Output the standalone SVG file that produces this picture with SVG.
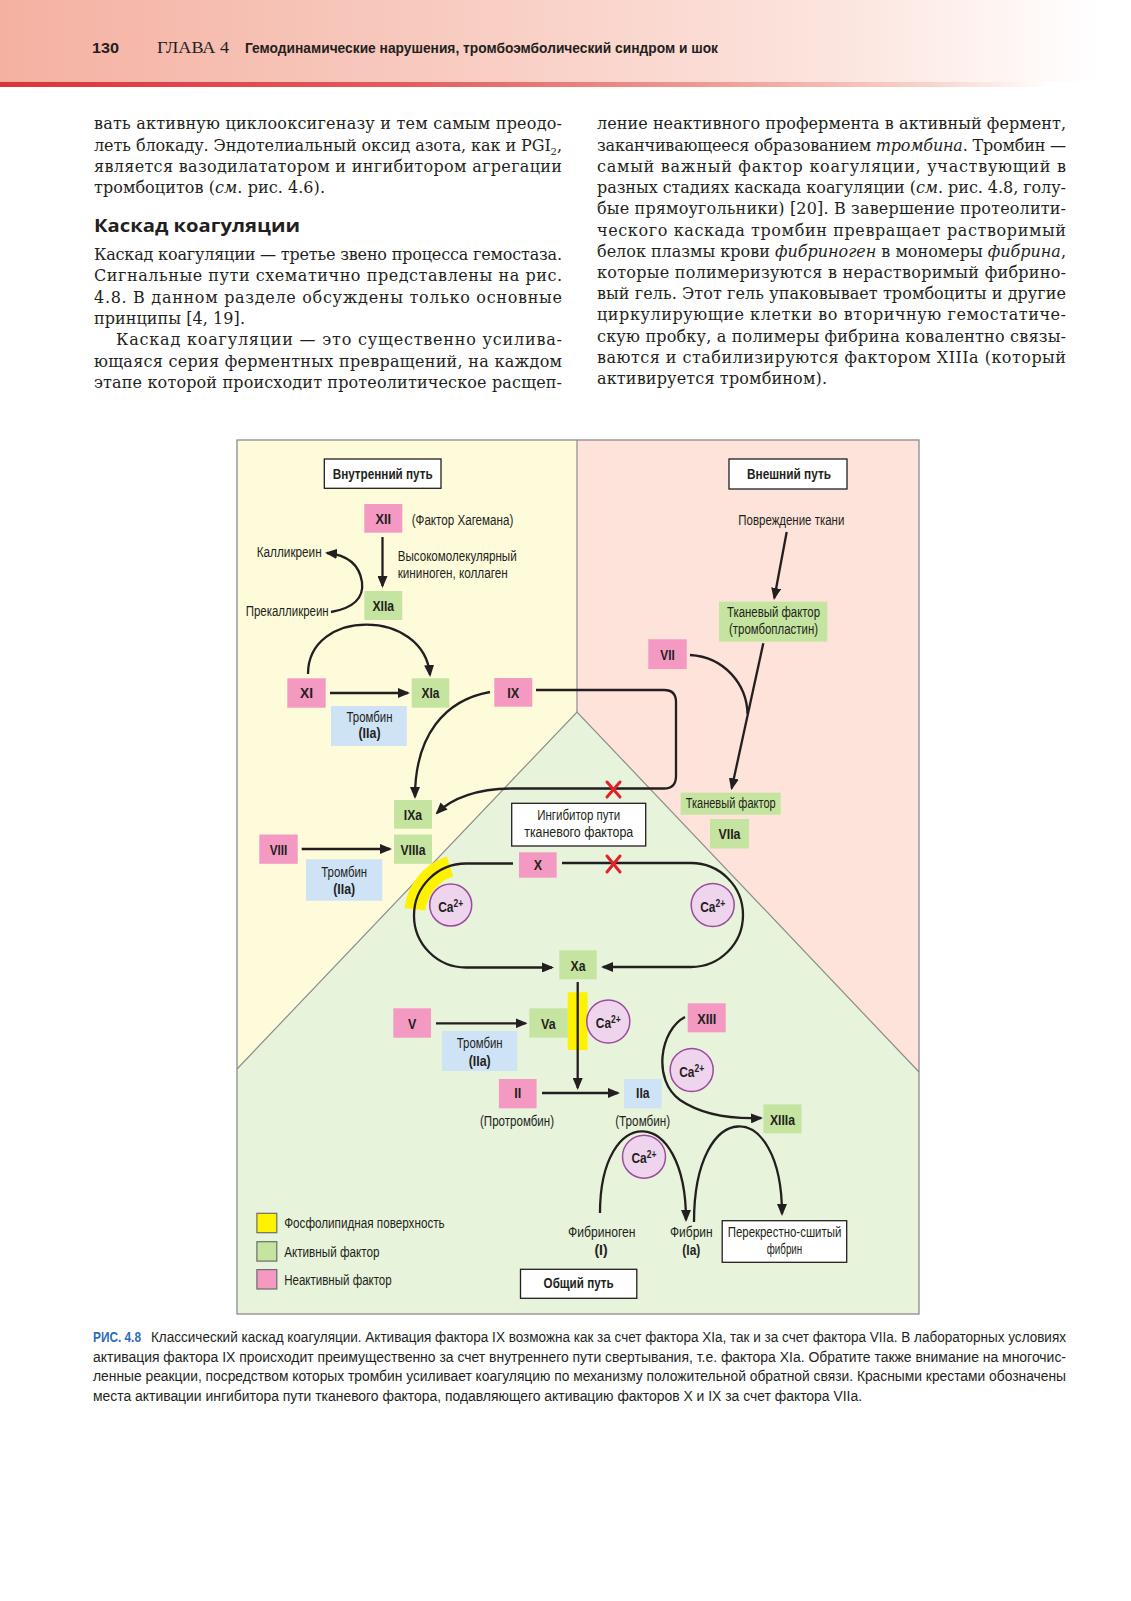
<svg xmlns="http://www.w3.org/2000/svg" width="1131" height="1601" viewBox="0 0 1131 1601">
<defs>
<linearGradient id="hdr" x1="0" y1="0" x2="1" y2="0">
<stop offset="0" stop-color="#f4b1a2"/>
<stop offset="0.45" stop-color="#f9cfc5"/>
<stop offset="0.75" stop-color="#fce5df"/>
<stop offset="0.97" stop-color="#ffffff"/>
</linearGradient>
<linearGradient id="rl" x1="0" y1="0" x2="1" y2="0">
<stop offset="0" stop-color="#dd343b"/>
<stop offset="0.35" stop-color="#e45a5c"/>
<stop offset="0.62" stop-color="#ee9a92"/>
<stop offset="0.82" stop-color="#f8d3cc"/>
<stop offset="0.93" stop-color="#ffffff"/>
</linearGradient>
<marker id="ah" markerUnits="userSpaceOnUse" markerWidth="12" markerHeight="10" refX="10" refY="5" orient="auto">
<path d="M0,0 L12,5 L0,10 Z" fill="#231f20"/>
</marker>
</defs>
<style>
.body{font-family:"DejaVu Serif","Liberation Serif",serif;font-size:16px;fill:#231f20}
.it{font-style:italic}
.lbl{font-family:"Liberation Sans Narrow","Liberation Sans",Arial,sans-serif;font-size:14px;fill:#231f20}
.cap{font-family:"Liberation Sans Narrow","Liberation Sans",Arial,sans-serif;font-size:14px;fill:#231f20}
.b{font-weight:bold}
.pk{fill:#f49ac2}
.gr{fill:#c5e49f}
.bl{fill:#cfe3f6}
.wb{fill:#ffffff;stroke:#231f20;stroke-width:1.3}
.ca circle{fill:#efd4ee;stroke:#9b4a9e;stroke-width:1.5}
.con path{fill:none;stroke:#231f20;stroke-width:2.3}
.rx line{stroke:#e4202a;stroke-width:3;stroke-linecap:round}
.reg{stroke:none}
.edge{stroke:#8c8c8c;stroke-width:1.2;fill:none}
</style>
<rect x="0" y="0" width="1131" height="1601" fill="#ffffff"/>

<!-- header -->
<g id="header">
<rect x="0" y="0" width="1131" height="82" fill="url(#hdr)"/>
<rect x="0" y="82" width="1131" height="5" fill="url(#rl)"/>
<text x="92" y="53" class="lbl b" font-size="17" textLength="27" lengthAdjust="spacingAndGlyphs">130</text>
<text x="157" y="53" font-family="Liberation Serif, serif" font-size="17" fill="#231f20" textLength="72" lengthAdjust="spacingAndGlyphs">ГЛАВА 4</text>
<text x="245" y="53" class="lbl b" font-size="17" textLength="473" lengthAdjust="spacingAndGlyphs">Гемодинамические нарушения, тромбоэмболический синдром и шок</text>
</g>

<!-- body text -->
<g id="bodytext">
<text class="body" x="94" y="129.3" textLength="468" lengthAdjust="spacing">вать активную циклооксигеназу и тем самым преодо-</text>
<text class="body" x="94" y="150.6" textLength="468" lengthAdjust="spacing">леть блокаду. Эндотелиальный оксид азота, как и PGI<tspan font-size="10" dy="4">2</tspan><tspan dy="-4">,</tspan></text>
<text class="body" x="94" y="171.9" textLength="468" lengthAdjust="spacing">является вазодилататором и ингибитором агрегации</text>
<text class="body" x="94" y="193.2" textLength="231" lengthAdjust="spacing">тромбоцитов (<tspan class="it">см</tspan>. рис. 4.6).</text>
<text x="94" y="231.7" font-family="Open Sans, DejaVu Sans, sans-serif" font-weight="bold" font-size="17" fill="#231f20" textLength="206" lengthAdjust="spacingAndGlyphs">Каскад коагуляции</text>
<text class="body" x="94" y="260" textLength="468" lengthAdjust="spacing">Каскад коагуляции — третье звено процесса гемостаза.</text>
<text class="body" x="94" y="281.3" textLength="468" lengthAdjust="spacing">Сигнальные пути схематично представлены на рис.</text>
<text class="body" x="94" y="302.6" textLength="468" lengthAdjust="spacing">4.8. В данном разделе обсуждены только основные</text>
<text class="body" x="94" y="323.9" textLength="151" lengthAdjust="spacing">принципы [4, 19].</text>
<text class="body" x="116" y="345.2" textLength="446" lengthAdjust="spacing">Каскад коагуляции — это существенно усилива-</text>
<text class="body" x="94" y="366.5" textLength="468" lengthAdjust="spacing">ющаяся серия ферментных превращений, на каждом</text>
<text class="body" x="94" y="387.8" textLength="468" lengthAdjust="spacing">этапе которой происходит протеолитическое расщеп-</text>

<text class="body" x="597" y="129.3" textLength="469" lengthAdjust="spacing">ление неактивного профермента в активный фермент,</text>
<text class="body" x="597" y="150.6" textLength="469" lengthAdjust="spacing">заканчивающееся образованием <tspan class="it">тромбина</tspan>. Тромбин —</text>
<text class="body" x="597" y="171.9" textLength="469" lengthAdjust="spacing">самый важный фактор коагуляции, участвующий в</text>
<text class="body" x="597" y="193.2" textLength="469" lengthAdjust="spacing">разных стадиях каскада коагуляции (<tspan class="it">см</tspan>. рис. 4.8, голу-</text>
<text class="body" x="597" y="214.4" textLength="469" lengthAdjust="spacing">бые прямоугольники) [20]. В завершение протеолити-</text>
<text class="body" x="597" y="235.6" textLength="469" lengthAdjust="spacing">ческого каскада тромбин превращает растворимый</text>
<text class="body" x="597" y="256.8" textLength="469" lengthAdjust="spacing">белок плазмы крови <tspan class="it">фибриноген</tspan> в мономеры <tspan class="it">фибрина</tspan>,</text>
<text class="body" x="597" y="278" textLength="469" lengthAdjust="spacing">которые полимеризуются в нерастворимый фибрино-</text>
<text class="body" x="597" y="299.2" textLength="469" lengthAdjust="spacing">вый гель. Этот гель упаковывает тромбоциты и другие</text>
<text class="body" x="597" y="320.4" textLength="469" lengthAdjust="spacing">циркулирующие клетки во вторичную гемостатиче-</text>
<text class="body" x="597" y="341.6" textLength="469" lengthAdjust="spacing">скую пробку, а полимеры фибрина ковалентно связы-</text>
<text class="body" x="597" y="362.8" textLength="469" lengthAdjust="spacing">ваются и стабилизируются фактором XIIIa (который</text>
<text class="body" x="597" y="384.2" textLength="230" lengthAdjust="spacing">активируется тромбином).</text>
</g>

<!-- diagram regions -->
<g id="regions">
<polygon class="reg" fill="#fefbdb" points="237,440 577,440 577,712 237,1069"/>
<polygon class="reg" fill="#fde3d9" points="577,440 919,440 919,1072 577,712"/>
<polygon class="reg" fill="#e7f3da" points="577,712 919,1072 919,1314 237,1314 237,1069"/>
<polyline class="edge" points="237,1069 577,712 919,1072"/>
<line class="edge" x1="577" y1="440" x2="577" y2="712"/>
<rect x="237" y="440" width="682" height="874" fill="none" stroke="#8c8c8c" stroke-width="1.3"/>
</g>

<!-- phospholipid surfaces -->
<g id="phospholipid">
<path d="M404.5,907.9 A62,62 0 0 1 446.8,856.5 L453.3,876.5 A41,41 0 0 0 425.3,910.5 Z" fill="#fff200"/>
<rect x="567.7" y="992.3" width="19.8" height="57.7" fill="#fff200"/>
</g>

<!-- connectors -->
<g id="connectors" class="con">
<path d="M382.5,537 L382.5,586" marker-end="url(#ah)"/>
<path d="M331,612 Q365,606 362,582 Q358,556 327,553" marker-end="url(#ah)"/>
<path d="M308,674 C308,608 424,608 430,675" marker-end="url(#ah)"/>
<path d="M330,693 L408,693" marker-end="url(#ah)"/>
<path d="M490,692 C445,700 415,735 415,797" marker-end="url(#ah)"/>
<path d="M536,690 L664,690 Q676,690 676,702 L676,776 Q676,788.5 664,788.5 L512,788.5 C478,788.5 452,798 437,813" marker-end="url(#ah)"/>
<path d="M786.7,532 L774.3,598" marker-end="url(#ah)"/>
<path d="M763.3,643.3 L731.7,788.3" marker-end="url(#ah)"/>
<path d="M690,655 C725,657 747,685 747.5,714"/>
<path d="M301.7,849 L390,849" marker-end="url(#ah)"/>
<path d="M513,863.5 L466,863.5 A52,52 0 0 0 466,967.5 L552,967.5" marker-end="url(#ah)"/>
<path d="M562,863 L691,863 A52,52 0 0 1 691,967 L603,967" marker-end="url(#ah)"/>
<path d="M577.7,982 L577.7,1088" marker-end="url(#ah)"/>
<path d="M436,1023.3 L525.5,1023.3" marker-end="url(#ah)"/>
<path d="M542,1093 L618,1093" marker-end="url(#ah)"/>
<path d="M685,1017 C660,1030 652,1080 680,1100 C705,1117 735,1119 761,1118" marker-end="url(#ah)"/>
<path d="M600,1213 C600,1103 686,1103 686,1220" marker-end="url(#ah)"/>
<path d="M694,1222 C694,1096 782,1096 782,1214" marker-end="url(#ah)"/>
</g>

<!-- red crosses -->
<g id="crosses" class="rx">
<line x1="607" y1="782" x2="620" y2="797"/><line x1="620" y1="782" x2="607" y2="797"/>
<line x1="607" y1="856" x2="620" y2="872"/><line x1="620" y1="856" x2="607" y2="872"/>
</g>

<!-- nodes -->
<g id="n-intrinsic"><rect class="wb" x="324.3" y="459" width="116.7" height="29.3"/><text class="lbl b" x="382.7" y="479" text-anchor="middle" textLength="100" lengthAdjust="spacingAndGlyphs">Внутренний путь</text></g>
<g id="n-extrinsic"><rect class="wb" x="729" y="459" width="118" height="30"/><text class="lbl b" x="789" y="479.3" text-anchor="middle" textLength="84" lengthAdjust="spacingAndGlyphs">Внешний путь</text></g>

<g id="n-XII"><rect class="pk" x="364.3" y="504" width="38" height="28.7"/><text class="lbl b" x="383.3" y="524" text-anchor="middle" textLength="15.5" lengthAdjust="spacingAndGlyphs">XII</text></g>
<g id="t-hageman"><text class="lbl" x="411.7" y="525" textLength="101.6" lengthAdjust="spacingAndGlyphs">(Фактор Хагемана)</text></g>
<g id="t-hmwk"><text class="lbl" x="397.7" y="560.7" textLength="119" lengthAdjust="spacingAndGlyphs">Высокомолекулярный</text><text class="lbl" x="397.7" y="577.7" textLength="110" lengthAdjust="spacingAndGlyphs">кининоген, коллаген</text></g>
<g id="t-kallikrein"><text class="lbl" x="256.7" y="557.3" textLength="65" lengthAdjust="spacingAndGlyphs">Калликреин</text></g>
<g id="t-prekallikrein"><text class="lbl" x="245.7" y="616" textLength="83" lengthAdjust="spacingAndGlyphs">Прекалликреин</text></g>
<g id="n-XIIa"><rect class="gr" x="364.3" y="591" width="38" height="29"/><text class="lbl b" x="383.3" y="611" text-anchor="middle" textLength="21.7" lengthAdjust="spacingAndGlyphs">XIIa</text></g>
<g id="n-XI"><rect class="pk" x="287.3" y="678.3" width="38.4" height="29.4"/><text class="lbl b" x="306.5" y="698.3" text-anchor="middle" textLength="13" lengthAdjust="spacingAndGlyphs">XI</text></g>
<g id="n-XIa"><rect class="gr" x="411.7" y="678.3" width="37.6" height="29.4"/><text class="lbl b" x="430.5" y="698.3" text-anchor="middle" textLength="18" lengthAdjust="spacingAndGlyphs">XIa</text></g>
<g id="n-thrombin1"><rect class="bl" x="331" y="706" width="75.7" height="40"/><text class="lbl" x="369.5" y="721.7" text-anchor="middle" textLength="46" lengthAdjust="spacingAndGlyphs">Тромбин</text><text class="lbl b" x="369.5" y="738.3" text-anchor="middle" textLength="22" lengthAdjust="spacingAndGlyphs">(IIa)</text></g>
<g id="n-IX"><rect class="pk" x="494.3" y="678" width="38" height="28.7"/><text class="lbl b" x="513.3" y="698" text-anchor="middle" textLength="12" lengthAdjust="spacingAndGlyphs">IX</text></g>

<g id="t-injury"><text class="lbl" x="791.3" y="525" text-anchor="middle" textLength="106" lengthAdjust="spacingAndGlyphs">Повреждение ткани</text></g>
<g id="n-TF1"><rect class="gr" x="719" y="601.7" width="108.3" height="40"/><text class="lbl" x="773.5" y="616.7" text-anchor="middle" textLength="93" lengthAdjust="spacingAndGlyphs">Тканевый фактор</text><text class="lbl" x="773.5" y="634" text-anchor="middle" textLength="89" lengthAdjust="spacingAndGlyphs">(тромбопластин)</text></g>
<g id="n-VII"><rect class="pk" x="648.3" y="639.3" width="38.4" height="29.7"/><text class="lbl b" x="667.5" y="659.5" text-anchor="middle" textLength="14.5" lengthAdjust="spacingAndGlyphs">VII</text></g>

<g id="n-IXa"><rect class="gr" x="394" y="800" width="38" height="28.7"/><text class="lbl b" x="413" y="820" text-anchor="middle" textLength="18.3" lengthAdjust="spacingAndGlyphs">IXa</text></g>
<g id="n-VIIIa"><rect class="gr" x="394" y="834.5" width="38" height="29.3"/><text class="lbl b" x="413" y="855" text-anchor="middle" textLength="25" lengthAdjust="spacingAndGlyphs">VIIIa</text></g>
<g id="n-VIII"><rect class="pk" x="259.3" y="834.5" width="38.4" height="29.3"/><text class="lbl b" x="278.5" y="855" text-anchor="middle" textLength="17.7" lengthAdjust="spacingAndGlyphs">VIII</text></g>
<g id="n-thrombin2"><rect class="bl" x="306" y="859.3" width="76.3" height="41.4"/><text class="lbl" x="344.2" y="876.7" text-anchor="middle" textLength="46" lengthAdjust="spacingAndGlyphs">Тромбин</text><text class="lbl b" x="344.2" y="894" text-anchor="middle" textLength="22" lengthAdjust="spacingAndGlyphs">(IIa)</text></g>
<g id="n-TFPI"><rect class="wb" x="511.7" y="803.3" width="134" height="42.7"/><text class="lbl" x="578.7" y="820" text-anchor="middle" textLength="83" lengthAdjust="spacingAndGlyphs">Ингибитор пути</text><text class="lbl" x="578.7" y="837.3" text-anchor="middle" textLength="109" lengthAdjust="spacingAndGlyphs">тканевого фактора</text></g>
<g id="n-TF2"><rect class="gr" x="680.7" y="792.7" width="100" height="22"/><text class="lbl" x="730.7" y="808" text-anchor="middle" textLength="90" lengthAdjust="spacingAndGlyphs">Тканевый фактор</text></g>
<g id="n-VIIa"><rect class="gr" x="710" y="819" width="39" height="29.5"/><text class="lbl b" x="729.5" y="839" text-anchor="middle" textLength="22" lengthAdjust="spacingAndGlyphs">VIIa</text></g>
<g id="n-X"><rect class="pk" x="519" y="852.3" width="37.7" height="25.4"/><text class="lbl b" x="537.8" y="870" text-anchor="middle" textLength="8.3" lengthAdjust="spacingAndGlyphs">X</text></g>
<g id="n-Xa"><rect class="gr" x="559.3" y="950.3" width="37.4" height="29"/><text class="lbl b" x="578" y="971" text-anchor="middle" textLength="15" lengthAdjust="spacingAndGlyphs">Xa</text></g>
<g id="n-V"><rect class="pk" x="393.3" y="1008.3" width="37.7" height="29.4"/><text class="lbl b" x="412.2" y="1029.3" text-anchor="middle" textLength="8.3" lengthAdjust="spacingAndGlyphs">V</text></g>
<g id="n-Va"><rect class="gr" x="529.3" y="1008.3" width="38.4" height="29.4"/><text class="lbl b" x="548.3" y="1029.3" text-anchor="middle" textLength="14.5" lengthAdjust="spacingAndGlyphs">Va</text></g>
<g id="n-thrombin3"><rect class="bl" x="442" y="1031" width="75.3" height="40"/><text class="lbl" x="479.7" y="1048.3" text-anchor="middle" textLength="46" lengthAdjust="spacingAndGlyphs">Тромбин</text><text class="lbl b" x="479.7" y="1066" text-anchor="middle" textLength="22" lengthAdjust="spacingAndGlyphs">(IIa)</text></g>
<g id="n-XIII"><rect class="pk" x="687.7" y="1003.3" width="38" height="29"/><text class="lbl b" x="706.7" y="1024" text-anchor="middle" textLength="19" lengthAdjust="spacingAndGlyphs">XIII</text></g>
<g id="n-II"><rect class="pk" x="498.9" y="1079" width="37.7" height="29.3"/><text class="lbl b" x="517.7" y="1098.3" text-anchor="middle" textLength="7" lengthAdjust="spacingAndGlyphs">II</text></g>
<g id="t-prothrombin"><text class="lbl" x="517" y="1125.7" text-anchor="middle" textLength="74" lengthAdjust="spacingAndGlyphs">(Протромбин)</text></g>
<g id="n-IIa"><rect class="bl" x="624" y="1079" width="37.6" height="29.3"/><text class="lbl b" x="642.8" y="1098.3" text-anchor="middle" textLength="13.5" lengthAdjust="spacingAndGlyphs">IIa</text></g>
<g id="t-thrombin"><text class="lbl" x="642.7" y="1125.7" text-anchor="middle" textLength="55" lengthAdjust="spacingAndGlyphs">(Тромбин)</text></g>
<g id="n-XIIIa"><rect class="gr" x="763.4" y="1104.3" width="38.1" height="29"/><text class="lbl b" x="782.5" y="1124.5" text-anchor="middle" textLength="25" lengthAdjust="spacingAndGlyphs">XIIIa</text></g>
<g id="t-fibrinogen"><text class="lbl" x="601.8" y="1236.7" text-anchor="middle" textLength="67.5" lengthAdjust="spacingAndGlyphs">Фибриноген</text><text class="lbl b" x="601" y="1255" text-anchor="middle">(I)</text></g>
<g id="t-fibrin"><text class="lbl" x="691.3" y="1236.7" text-anchor="middle" textLength="42.7" lengthAdjust="spacingAndGlyphs">Фибрин</text><text class="lbl b" x="691.3" y="1255" text-anchor="middle" textLength="18" lengthAdjust="spacingAndGlyphs">(Ia)</text></g>
<g id="n-crosslinked"><rect class="wb" x="722.2" y="1220.7" width="124.5" height="41.6"/><text class="lbl" x="784.5" y="1236.7" text-anchor="middle" textLength="113.6" lengthAdjust="spacingAndGlyphs">Перекрестно-сшитый</text><text class="lbl" x="784.5" y="1254.3" text-anchor="middle" textLength="35.5" lengthAdjust="spacingAndGlyphs">фибрин</text></g>
<g id="n-common"><rect class="wb" x="520.5" y="1269.3" width="116.3" height="29"/><text class="lbl b" x="578.6" y="1288.3" text-anchor="middle" textLength="70" lengthAdjust="spacingAndGlyphs">Общий путь</text></g>

<!-- Ca2+ -->
<g id="ca1" class="ca"><circle cx="450.7" cy="905" r="21"/><text class="lbl b" x="450.7" y="911.5" text-anchor="middle" textLength="25" lengthAdjust="spacingAndGlyphs">Ca<tspan font-size="10" dy="-5">2+</tspan></text></g>
<g id="ca2" class="ca"><circle cx="712.7" cy="905" r="21.5"/><text class="lbl b" x="712.7" y="911.5" text-anchor="middle" textLength="25" lengthAdjust="spacingAndGlyphs">Ca<tspan font-size="10" dy="-5">2+</tspan></text></g>
<g id="ca3" class="ca"><circle cx="608.3" cy="1021.5" r="21.5"/><text class="lbl b" x="608.3" y="1028" text-anchor="middle" textLength="25" lengthAdjust="spacingAndGlyphs">Ca<tspan font-size="10" dy="-5">2+</tspan></text></g>
<g id="ca4" class="ca"><circle cx="691.7" cy="1070" r="21.5"/><text class="lbl b" x="691.7" y="1076.5" text-anchor="middle" textLength="25" lengthAdjust="spacingAndGlyphs">Ca<tspan font-size="10" dy="-5">2+</tspan></text></g>
<g id="ca5" class="ca"><circle cx="644" cy="1156.7" r="21.5"/><text class="lbl b" x="644" y="1163.2" text-anchor="middle" textLength="25" lengthAdjust="spacingAndGlyphs">Ca<tspan font-size="10" dy="-5">2+</tspan></text></g>

<!-- legend -->
<g id="legend">
<rect x="256.9" y="1213.3" width="19.9" height="19.4" fill="#fff200" stroke="#6d6d6d" stroke-width="1.2"/>
<text class="lbl" x="284.2" y="1228.3" textLength="160.5" lengthAdjust="spacingAndGlyphs">Фосфолипидная поверхность</text>
<rect x="256.9" y="1241.7" width="19.9" height="19.4" fill="#c5e49f" stroke="#6d6d6d" stroke-width="1.2"/>
<text class="lbl" x="284.2" y="1256.7" textLength="95.4" lengthAdjust="spacingAndGlyphs">Активный фактор</text>
<rect x="256.9" y="1269.6" width="19.9" height="19.4" fill="#f49ac2" stroke="#6d6d6d" stroke-width="1.2"/>
<text class="lbl" x="284.2" y="1285" textLength="107.5" lengthAdjust="spacingAndGlyphs">Неактивный фактор</text>
</g>

<!-- caption -->
<g id="caption">
<text class="cap b" x="93" y="1342" style="fill:#2f6db5" textLength="48" lengthAdjust="spacingAndGlyphs">РИС. 4.8</text>
<text class="cap" x="151" y="1342" textLength="915" lengthAdjust="spacingAndGlyphs">Классический каскад коагуляции. Активация фактора IX возможна как за счет фактора XIa, так и за счет фактора VIIa. В лабораторных условиях</text>
<text class="cap" x="93" y="1361.5" textLength="973" lengthAdjust="spacingAndGlyphs">активация фактора IX происходит преимущественно за счет внутреннего пути свертывания, т.е. фактора XIa. Обратите также внимание на многочис-</text>
<text class="cap" x="93" y="1381" textLength="973" lengthAdjust="spacingAndGlyphs">ленные реакции, посредством которых тромбин усиливает коагуляцию по механизму положительной обратной связи. Красными крестами обозначены</text>
<text class="cap" x="93" y="1400.5" textLength="769" lengthAdjust="spacingAndGlyphs">места активации ингибитора пути тканевого фактора, подавляющего активацию факторов X и IX за счет фактора VIIa.</text>
</g>
</svg>
